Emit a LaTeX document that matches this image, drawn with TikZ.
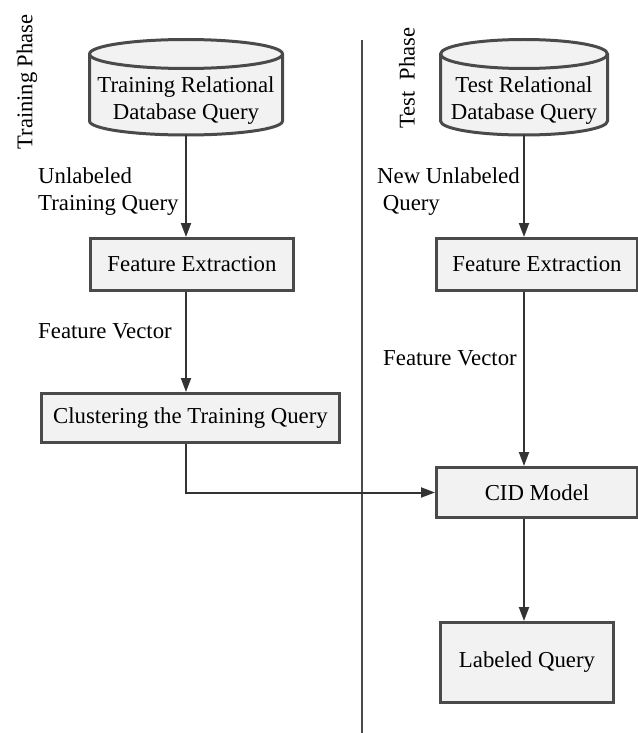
\documentclass[tikz,border=0pt]{standalone}
\usepackage{fontspec}
\setmainfont{Liberation Serif}
\usetikzlibrary{arrows.meta}
\definecolor{boxfill}{HTML}{F2F2F2}
\definecolor{boxline}{HTML}{4A4A4A}
\definecolor{arrline}{HTML}{333333}
\tikzset{
  procbox/.style={draw=boxline, line width=3pt, fill=boxfill, inner sep=0pt,
    font=\fontsize{22.8}{27}\selectfont, anchor=north west},
  flow/.style={draw=arrline, line width=2pt, -{Triangle[length=14pt,width=10pt]}},
  lbl/.style={font=\fontsize{22.8}{27}\selectfont, align=left, inner sep=0pt},
  phase/.style={font=\fontsize{22.5}{26}\selectfont, rotate=90, inner sep=0pt},
  cyl/.style={draw=boxline, line width=3pt, fill=boxfill},
}
\begin{document}
\begin{tikzpicture}[x=1pt,y=-1pt]
\useasboundingbox (0,0) rectangle (637,733);
% divider
\draw[boxline, line width=2.5pt] (362,40) -- (362,733);
% phase labels
\node[phase] (tp) at (27,82) {Training Phase};
\node[phase] (sp) at (407,78) {Test\ \ Phase};
% training cylinder
\path[cyl] (89.5,54) -- (89.5,121) arc[start angle=180,end angle=0,x radius=96.5,y radius=14] -- (282.5,54) arc[start angle=0,end angle=-180,x radius=96.5,y radius=14.5] -- cycle;
\draw[boxline, line width=3pt] (89.5,54) arc[start angle=180,end angle=0,x radius=96.5,y radius=14.5];
\node[lbl, align=center] (c1) at (186,101) {Training Relational\\Database Query};
\coordinate (c1b) at (186,135);
% test cylinder
\path[cyl] (440.5,54) -- (440.5,121) arc[start angle=180,end angle=0,x radius=83.5,y radius=14] -- (607.5,54) arc[start angle=0,end angle=-180,x radius=83.5,y radius=14.5] -- cycle;
\draw[boxline, line width=3pt] (440.5,54) arc[start angle=180,end angle=0,x radius=83.5,y radius=14.5];
\node[lbl, align=center] (c2) at (524,101) {Test Relational\\Database Query};
\coordinate (c2b) at (524,135);
% boxes
\node[procbox, minimum width=203pt, minimum height=52pt] (fe1) at (89,237) {Feature Extraction};
\node[procbox, minimum width=298pt, minimum height=49pt] (cl) at (40,392) {Clustering the Training Query};
\node[procbox, minimum width=201pt, minimum height=52pt] (fe2) at (435,237) {Feature Extraction};
\node[procbox, minimum width=201pt, minimum height=50pt] (cid) at (435,466) {CID Model};
\node[procbox, minimum width=173pt, minimum height=80pt] (lq) at (439,621) {Labeled Query};
% labels
\node[lbl, anchor=west] (l1) at (38,192) {Unlabeled\\Training Query};
\node[lbl, anchor=west] (l2) at (38,331) {Feature Vector};
\node[lbl, anchor=west] (l3) at (377,192) {New Unlabeled\\\ Query};
\node[lbl, anchor=west] (l4) at (383,358) {Feature Vector};
% arrows
\draw[flow] (c1b) -- (fe1.north -| c1b);
\draw[flow] (fe1.south -| c1b) -- (cl.north -| c1b);
\draw[flow] (c2b) -- (fe2.north -| c2b);
\draw[flow] (fe2.south -| c2b) -- (cid.north -| c2b);
\draw[flow] (cid.south -| c2b) -- (lq.north -| c2b);
\draw[flow] (cl.south -| c1b) |- (cid.west);
\end{tikzpicture}
\end{document}
